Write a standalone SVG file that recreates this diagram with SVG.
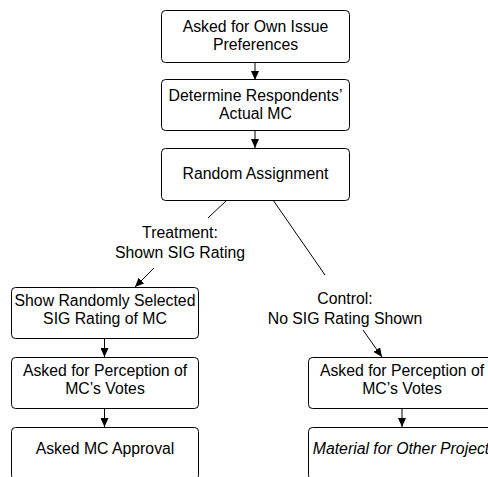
<svg xmlns="http://www.w3.org/2000/svg" width="488" height="477" viewBox="0 0 488 477">
<style>
.box{fill:#fff;stroke:#000;stroke-width:1}
.t{font-family:"Liberation Sans",Arial,sans-serif;font-size:15.8px;fill:#000;text-anchor:middle}
.i{font-style:italic}
.c{stroke:#000;stroke-width:1;fill:none}
</style>
<defs>
<marker id="ah" markerWidth="10" markerHeight="8" refX="9" refY="4" orient="auto" markerUnits="userSpaceOnUse">
<path d="M0,0 L9,4 L0,8 z" fill="#000"/>
</marker>
</defs>
<rect width="488" height="477" fill="#fff"/>
<g id="connectors">
<line class="c" x1="255" y1="62" x2="255" y2="80" marker-end="url(#ah)"/>
<line class="c" x1="255" y1="130" x2="255" y2="148" marker-end="url(#ah)"/>
<line class="c" x1="227" y1="200" x2="208" y2="218"/>
<line class="c" x1="154" y1="268" x2="135" y2="287" marker-end="url(#ah)"/>
<line class="c" x1="273" y1="200" x2="325" y2="275"/>
<line class="c" x1="363" y1="330" x2="382" y2="357" marker-end="url(#ah)"/>
<line class="c" x1="104.5" y1="338" x2="104.5" y2="357" marker-end="url(#ah)"/>
<line class="c" x1="104.5" y1="408" x2="104.5" y2="427" marker-end="url(#ah)"/>
<line class="c" x1="402" y1="408" x2="402" y2="427" marker-end="url(#ah)"/>
</g>
<g id="n1"><rect class="box" x="161.5" y="10.5" width="188" height="52" rx="4"/>
<text class="t" x="255.5" y="32">Asked for Own Issue</text><text class="t" x="255.5" y="50">Preferences</text></g>
<g id="n2"><rect class="box" x="161.5" y="79.5" width="188" height="51" rx="4"/>
<text class="t" x="255.5" y="101">Determine Respondents’</text><text class="t" x="255.5" y="119">Actual MC</text></g>
<g id="n3"><rect class="box" x="161.5" y="148.5" width="188" height="52" rx="4"/>
<text class="t" x="255.5" y="179">Random Assignment</text></g>
<g id="l1"><text class="t" x="180" y="238">Treatment:</text><text class="t" x="180" y="258">Shown SIG Rating</text></g>
<g id="l2"><text class="t" x="345" y="304">Control:</text><text class="t" x="345" y="324">No SIG Rating Shown</text></g>
<g id="n4"><rect class="box" x="11.5" y="287.5" width="187" height="51" rx="4"/>
<text class="t" x="105" y="306">Show Randomly Selected</text><text class="t" x="105" y="324">SIG Rating of MC</text></g>
<g id="n5"><rect class="box" x="11.5" y="357.5" width="187" height="51" rx="4"/>
<text class="t" x="105" y="376">Asked for Perception of</text><text class="t" x="105" y="394">MC’s Votes</text></g>
<g id="n6"><rect class="box" x="11.5" y="427.5" width="187" height="52" rx="4"/>
<text class="t" x="105" y="454">Asked MC Approval</text></g>
<g id="n7"><rect class="box" x="308.5" y="357.5" width="188" height="51" rx="4"/>
<text class="t" x="402" y="376">Asked for Perception of</text><text class="t" x="402" y="394">MC’s Votes</text></g>
<g id="n8"><rect class="box" x="308.5" y="427.5" width="188" height="52" rx="4"/>
<text class="t i" x="401" y="454">Material for Other Project</text></g>
</svg>
